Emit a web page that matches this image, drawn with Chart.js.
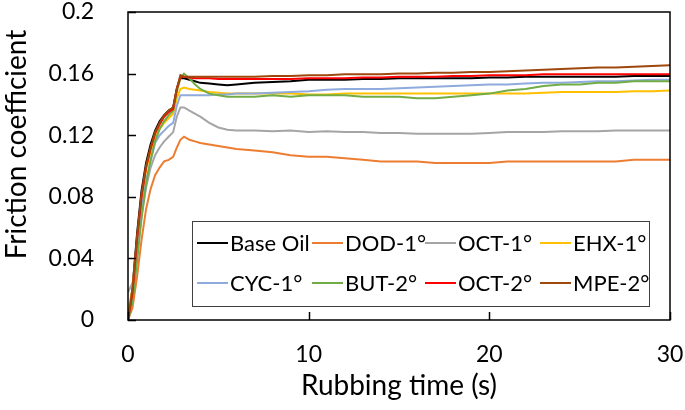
<!DOCTYPE html>
<html>
<head>
<meta charset="utf-8">
<script src="https://cdn.jsdelivr.net/npm/chart.js@4.4.1/dist/chart.umd.min.js"></script>
<style>
	html, body { margin: 0; padding: 0; background: #fff; }
</style>
</head>
<body>
<canvas id="frictionChart" width="685" height="410"></canvas>
<script>
// rubbing time (s)
var rubbingTime = [0, 0.25, 0.5, 0.75, 1, 1.25, 1.5, 1.75, 2, 2.25, 2.5, 2.7, 2.9, 3.1, 3.4, 3.7, 4, 4.5, 5, 5.5, 6,
	7, 8, 9, 10, 11, 12, 13, 14, 15, 16, 17, 18, 19, 20, 21, 22, 23, 24, 25, 26, 27, 28, 29, 30];

// friction coefficient per oil
var baseOil = [0, 0.021, 0.056, 0.084, 0.102, 0.114, 0.123, 0.129, 0.133, 0.136, 0.138, 0.150, 0.157, 0.157, 0.156, 0.155, 0.154, 0.1535, 0.153, 0.1525, 0.153,
	0.154, 0.1545, 0.155, 0.156, 0.156, 0.156, 0.1565, 0.1565, 0.157, 0.157, 0.157, 0.157, 0.157, 0.1575, 0.1575, 0.158, 0.158, 0.158, 0.158, 0.158, 0.158, 0.1585, 0.1585, 0.1585];
var dod1 = [0, 0.008, 0.028, 0.052, 0.072, 0.085, 0.094, 0.099, 0.103, 0.104, 0.106, 0.112, 0.117, 0.119, 0.117, 0.116, 0.115, 0.114, 0.113, 0.112, 0.111,
	0.110, 0.109, 0.107, 0.106, 0.106, 0.105, 0.104, 0.103, 0.103, 0.103, 0.102, 0.102, 0.102, 0.102, 0.103, 0.103, 0.103, 0.103, 0.103, 0.103, 0.103, 0.104, 0.104, 0.104];
var oct1 = [0.018, 0.024, 0.044, 0.068, 0.086, 0.099, 0.107, 0.112, 0.116, 0.119, 0.122, 0.132, 0.138, 0.138, 0.136, 0.134, 0.132, 0.128, 0.125, 0.1235, 0.123,
	0.123, 0.1225, 0.123, 0.122, 0.1225, 0.122, 0.122, 0.1215, 0.1215, 0.121, 0.121, 0.121, 0.121, 0.1215, 0.122, 0.122, 0.122, 0.1225, 0.1225, 0.1225, 0.123, 0.123, 0.123, 0.123];
var ehx1 = [0.006, 0.02, 0.05, 0.078, 0.097, 0.109, 0.118, 0.124, 0.128, 0.131, 0.134, 0.144, 0.150, 0.151, 0.150, 0.1495, 0.149, 0.148, 0.1475, 0.147, 0.147,
	0.147, 0.147, 0.147, 0.1465, 0.1465, 0.147, 0.147, 0.147, 0.147, 0.147, 0.147, 0.147, 0.147, 0.147, 0.147, 0.147, 0.1475, 0.148, 0.148, 0.148, 0.148, 0.1485, 0.1485, 0.149];
var cyc1 = [0, 0.015, 0.045, 0.072, 0.090, 0.103, 0.115, 0.120, 0.123, 0.126, 0.128, 0.139, 0.146, 0.146, 0.146, 0.146, 0.146, 0.146, 0.1465, 0.1465, 0.147,
	0.147, 0.1475, 0.148, 0.1485, 0.1495, 0.150, 0.150, 0.150, 0.1505, 0.151, 0.1515, 0.152, 0.1525, 0.153, 0.153, 0.1535, 0.154, 0.154, 0.1545, 0.155, 0.155, 0.1555, 0.156, 0.156];
var but2 = [0, 0.012, 0.038, 0.066, 0.088, 0.104, 0.116, 0.124, 0.129, 0.133, 0.136, 0.148, 0.157, 0.160, 0.157, 0.153, 0.150, 0.147, 0.146, 0.145, 0.145,
	0.145, 0.146, 0.145, 0.146, 0.146, 0.146, 0.145, 0.145, 0.145, 0.144, 0.144, 0.145, 0.146, 0.147, 0.149, 0.150, 0.152, 0.153, 0.153, 0.154, 0.154, 0.155, 0.155, 0.155];
var oct2 = [0, 0.018, 0.052, 0.080, 0.099, 0.111, 0.121, 0.127, 0.132, 0.135, 0.137, 0.150, 0.158, 0.158, 0.1575, 0.157, 0.157, 0.157, 0.1565, 0.1565, 0.1565,
	0.1565, 0.1565, 0.1565, 0.157, 0.157, 0.157, 0.1575, 0.1575, 0.158, 0.158, 0.158, 0.1585, 0.1585, 0.159, 0.159, 0.159, 0.1595, 0.1595, 0.1595, 0.1595, 0.1595, 0.1595, 0.1595, 0.1595];
var mpe2 = [0, 0.02, 0.054, 0.082, 0.100, 0.112, 0.122, 0.128, 0.133, 0.136, 0.138, 0.150, 0.159, 0.158, 0.158, 0.158, 0.158, 0.158, 0.158, 0.158, 0.158,
	0.158, 0.1585, 0.1585, 0.159, 0.159, 0.1595, 0.1595, 0.1595, 0.160, 0.160, 0.1605, 0.1605, 0.161, 0.161, 0.1615, 0.162, 0.1625, 0.163, 0.1635, 0.164, 0.164, 0.1645, 0.165, 0.1655];

var seriesNames = ["Base Oil", "DOD-1°", "OCT-1°", "EHX-1°", "CYC-1°", "BUT-2°", "OCT-2°", "MPE-2°"];
var seriesValues = [baseOil, dod1, oct1, ehx1, cyc1, but2, oct2, mpe2];
var seriesColors = ["#000000", "#ED7D31", "#A5A5A5", "#FFC000", "#8FAADC", "#70AD47", "#FF0000", "#9E480E"];

var yTickLabels = ["0", "0.04", "0.08", "0.12", "0.16", "0.2"];
var xTickLabels = ["0", "10", "20", "30"];

var frictionChart = {
	fontFamily: "Lato, 'Open Sans', sans-serif",
	init: function(){
		var datasets = seriesValues.map(function(vals, idx){
			return {
				label: seriesNames[idx],
				data: vals.map(function(v, i){ return {x: rubbingTime[i], y: v}; }),
				borderColor: seriesColors[idx],
				backgroundColor: seriesColors[idx],
				borderWidth: 2,
				pointRadius: 0,
				tension: 0,
				order: seriesValues.length - idx // later series on top, like the original
			};
		});

		new Chart(document.getElementById("frictionChart"), {
			type: "line",
			data: {datasets: datasets},
			options: {
				responsive: false,
				animation: false,
				layout: {padding: {top: 12, right: 15, bottom: 0, left: 0}},
				plugins: {legend: {display: false}, tooltip: {enabled: false}},
				scales: {
					x: {
						type: "linear", min: 0, max: 30,
						afterFit: function(scale){
							scale.height = 90;
							scale.paddingLeft = 0;
							scale.paddingRight = 0;
						},
						grid: {display: false},
						border: {display: false},
						ticks: {
							stepSize: 10, padding: 13, color: "#000",
							font: {family: frictionChart.fontFamily, size: 23},
							callback: function(val, i){ return xTickLabels[i]; }
						},
						title: {
							display: true, text: "Rubbing time (s)", color: "#000",
							font: {family: frictionChart.fontFamily, size: 28},
							padding: {top: 0, bottom: 7}
						}
					},
					y: {
						min: 0, max: 0.2,
						afterFit: function(scale){
							scale.width = 128;
							scale.paddingTop = 0;
							scale.paddingBottom = 0;
						},
						grid: {display: false},
						border: {display: false},
						ticks: {
							stepSize: 0.04, padding: 26, color: "#000",
							font: {family: frictionChart.fontFamily, size: 23},
							callback: function(val, i){ return yTickLabels[i]; }
						},
						title: {
							display: true, text: "      Friction coefficient", color: "#000",
							font: {family: frictionChart.fontFamily, size: 28},
							padding: {top: 0, bottom: 0}
						}
					}
				}
			},
			plugins: [frictionChart.framePlugin, frictionChart.legendPlugin]
		});
	},
	// box round the plot area, ticks pointing inward
	framePlugin: {
		id: "frame",
		afterDatasetsDraw: function(chart){
			var ctx = chart.ctx, a = chart.chartArea;
			var xs = chart.scales.x, ys = chart.scales.y;
			ctx.save();
			ctx.strokeStyle = "#000";
			ctx.lineWidth = 1.5;
			ctx.strokeRect(a.left, a.top, a.right - a.left, a.bottom - a.top);
			ctx.beginPath();
			ys.ticks.forEach(function(t){
				var py = Math.round(ys.getPixelForValue(t.value)) + 0.5;
				ctx.moveTo(a.left, py);
				ctx.lineTo(a.left + 8, py);
			});
			xs.ticks.forEach(function(t){
				var px = Math.round(xs.getPixelForValue(t.value)) + 0.5;
				ctx.moveTo(px, a.bottom);
				ctx.lineTo(px, a.bottom - 8);
			});
			ctx.stroke();
			ctx.restore();
		}
	},
	// legend box inside the plot, 4 columns x 2 rows
	legendPlugin: {
		id: "boxLegend",
		afterDraw: function(chart){
			var ctx = chart.ctx;
			var colX = [197, 312, 425, 540];
			var rowY = [243, 283];
			ctx.save();
			ctx.fillStyle = "#fff";
			ctx.fillRect(192, 221, 457, 85);
			ctx.strokeStyle = "#404040";
			ctx.lineWidth = 1;
			ctx.strokeRect(192.5, 221.5, 457, 85);
			ctx.font = "22px " + frictionChart.fontFamily;
			ctx.textBaseline = "middle";
			chart.data.datasets.forEach(function(ds, idx){
				var x = colX[idx % 4], y = rowY[Math.floor(idx / 4)];
				ctx.strokeStyle = ds.borderColor;
				ctx.lineWidth = 2;
				ctx.beginPath();
				ctx.moveTo(x, y);
				ctx.lineTo(x + 31, y);
				ctx.stroke();
				ctx.fillStyle = "#000";
				ctx.fillText(ds.label, x + 33, y + 1);
			});
			ctx.restore();
		}
	}
};

frictionChart.init();
</script>
</body>
</html>
